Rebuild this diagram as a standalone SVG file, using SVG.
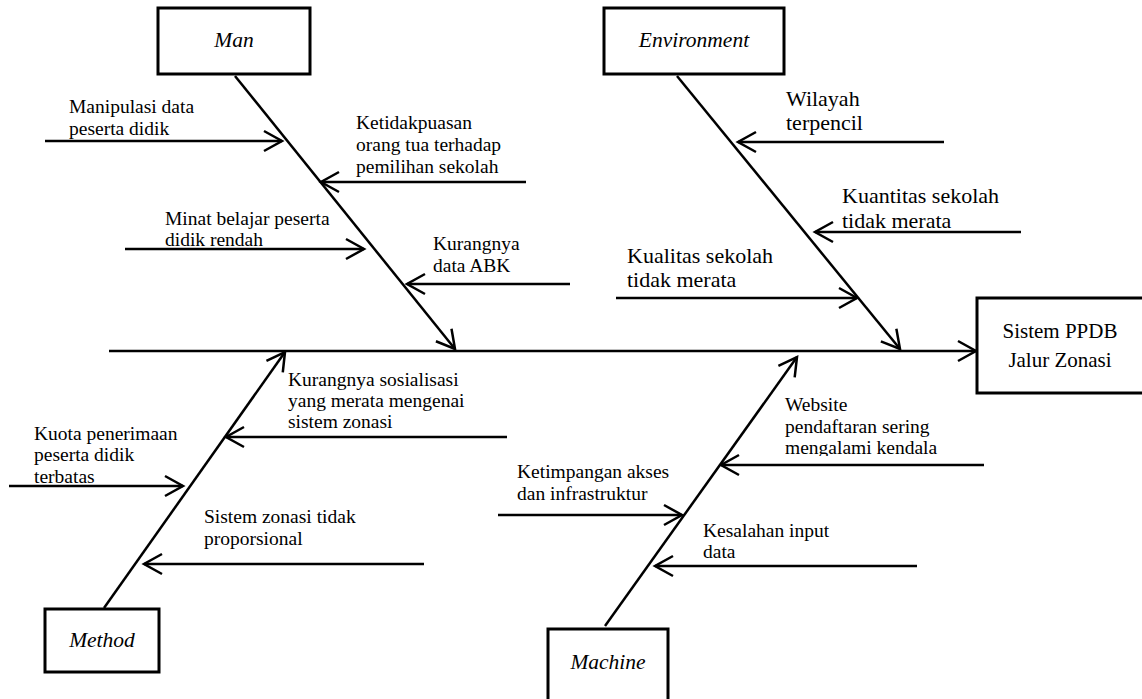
<svg xmlns="http://www.w3.org/2000/svg" width="1142" height="699" viewBox="0 0 1142 699">
<style>
.box{fill:#fff;stroke:#000;stroke-width:3}
.ln{fill:none;stroke:#000;stroke-width:2.5;marker-end:url(#ar)}
.t{font-family:"Liberation Serif",serif;font-size:19.5px;fill:#000}
.tb{font-family:"Liberation Serif",serif;font-size:22px;fill:#000}
.lb{font-family:"Liberation Serif",serif;font-size:21.5px;font-style:italic;fill:#000;text-anchor:middle}
.ef{font-family:"Liberation Serif",serif;font-size:21px;fill:#000;text-anchor:middle}
</style>
<defs>
<marker id="ar" viewBox="-22 -13 26 26" refX="0" refY="0" markerWidth="26" markerHeight="26" orient="auto" markerUnits="userSpaceOnUse" overflow="visible">
<path d="M-18,-10 L0,0 L-18,10" fill="none" stroke="#000" stroke-width="2.5"/>
</marker>
<clipPath id="cw"><rect x="700" y="380" width="300" height="76"/></clipPath>
</defs>
<rect width="1142" height="699" fill="#fff"/>
<g id="connectors">
<line class="ln" x1="109" y1="351" x2="976" y2="351"/>
<line class="ln" x1="235" y1="76" x2="455" y2="349"/>
<line class="ln" x1="677" y1="76" x2="900" y2="349"/>
<line class="ln" x1="104" y1="608" x2="285" y2="352"/>
<line class="ln" x1="605" y1="626" x2="797" y2="357"/>
<line class="ln" x1="45" y1="141" x2="282" y2="141"/>
<line class="ln" x1="526" y1="182" x2="321" y2="182"/>
<line class="ln" x1="125" y1="249" x2="364" y2="249"/>
<line class="ln" x1="570" y1="284" x2="407" y2="284"/>
<line class="ln" x1="944" y1="142" x2="738" y2="142"/>
<line class="ln" x1="1021" y1="232" x2="815" y2="232"/>
<line class="ln" x1="616" y1="298" x2="857" y2="298"/>
<line class="ln" x1="507" y1="437" x2="226" y2="437"/>
<line class="ln" x1="9" y1="486" x2="183" y2="486"/>
<line class="ln" x1="424" y1="564" x2="144" y2="564"/>
<line class="ln" x1="984" y1="465" x2="721" y2="465"/>
<line class="ln" x1="498" y1="515" x2="682" y2="515"/>
<line class="ln" x1="917" y1="566" x2="655" y2="566"/>
</g>
<g id="man">
<rect class="box" x="158" y="8" width="152" height="66"/>
<text class="lb" x="234" y="47">Man</text>
</g>
<g id="environment">
<rect class="box" x="604" y="8" width="180" height="66"/>
<text class="lb" x="694" y="47">Environment</text>
</g>
<g id="method">
<rect class="box" x="45" y="609" width="114" height="63"/>
<text class="lb" x="102" y="647">Method</text>
</g>
<g id="machine">
<rect class="box" x="548" y="629" width="120" height="80"/>
<text class="lb" x="608" y="669">Machine</text>
</g>
<g id="effect">
<rect class="box" x="977" y="298" width="170" height="95"/>
<text class="ef" x="1060" y="338">Sistem PPDB</text>
<text class="ef" x="1060" y="367">Jalur Zonasi</text>
</g>
<g id="cause-manipulasi"><text class="t" x="69" y="113">Manipulasi data</text><text class="t" x="69" y="135">peserta didik</text></g>
<g id="cause-ketidakpuasan"><text class="t" x="356" y="129">Ketidakpuasan</text><text class="t" x="356" y="151">orang tua terhadap</text><text class="t" x="356" y="173">pemilihan sekolah</text></g>
<g id="cause-minat"><text class="t" x="165" y="225">Minat belajar peserta</text><text class="t" x="165" y="246">didik rendah</text></g>
<g id="cause-abk"><text class="t" x="433" y="250">Kurangnya</text><text class="t" x="433" y="272">data ABK</text></g>
<g id="cause-wilayah"><text class="tb" x="786" y="106">Wilayah</text><text class="tb" x="786" y="130">terpencil</text></g>
<g id="cause-kuantitas"><text class="tb" x="842" y="203">Kuantitas sekolah</text><text class="tb" x="842" y="228">tidak merata</text></g>
<g id="cause-kualitas"><text class="tb" x="627" y="263">Kualitas sekolah</text><text class="tb" x="627" y="287">tidak merata</text></g>
<g id="cause-sosialisasi"><text class="t" x="288" y="386">Kurangnya sosialisasi</text><text class="t" x="288" y="407">yang merata mengenai</text><text class="t" x="288" y="428">sistem zonasi</text></g>
<g id="cause-kuota"><text class="t" x="34" y="440">Kuota penerimaan</text><text class="t" x="34" y="461">peserta didik</text><text class="t" x="34" y="483">terbatas</text></g>
<g id="cause-proporsional"><text class="t" x="204" y="523">Sistem zonasi tidak</text><text class="t" x="204" y="545">proporsional</text></g>
<g id="cause-website" clip-path="url(#cw)"><text class="t" x="785" y="411">Website</text><text class="t" x="785" y="433">pendaftaran sering</text><text class="t" x="785" y="454">mengalami kendala</text></g>
<g id="cause-ketimpangan"><text class="t" x="517" y="478">Ketimpangan akses</text><text class="t" x="517" y="500">dan infrastruktur</text></g>
<g id="cause-kesalahan"><text class="t" x="703" y="537">Kesalahan input</text><text class="t" x="703" y="558">data</text></g>
</svg>
